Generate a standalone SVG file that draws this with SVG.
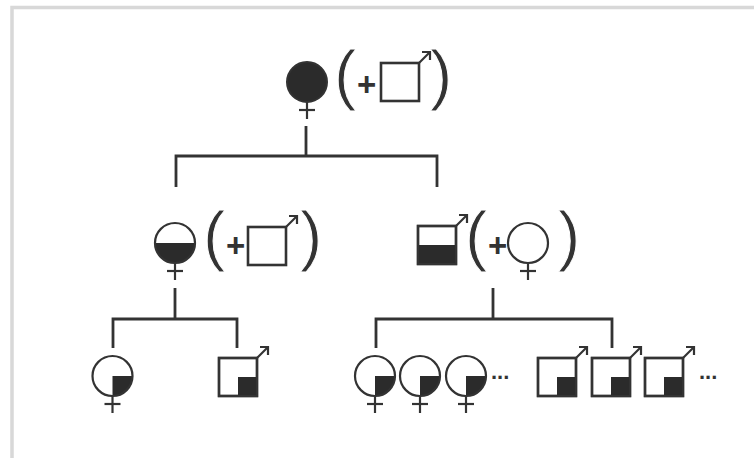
<svg xmlns="http://www.w3.org/2000/svg" width="754" height="458" viewBox="0 0 754 458">
<style>
.ln{fill:none;stroke:#333;stroke-width:2.8;stroke-linecap:butt}
.sym{fill:none;stroke:#333;stroke-width:2.2}
.sq{fill:#fff;stroke:#333;stroke-width:2.6}
.dk{fill:#2b2b2b;stroke:none}
.par{font-family:"Liberation Sans",Arial,sans-serif;font-size:67px;fill:#333;stroke:#fff;stroke-width:1}
.plus{font-family:"Liberation Sans",Arial,sans-serif;font-size:33px;font-weight:bold;fill:#333}
.dots{font-family:"Liberation Sans",Arial,sans-serif;font-size:22px;font-weight:bold;fill:#333}
</style>
<defs>
<g id="femBase">
<line class="sym" x1="0" y1="20" x2="0" y2="37" stroke-width="2.8"/>
<line class="sym" x1="-8" y1="28" x2="8" y2="28" stroke-width="2.8"/>
</g>
<g id="femQ">
<circle cx="0" cy="0" r="20" fill="#fff" stroke="none"/>
<path class="dk" d="M0,0 H20 A20,20 0 0 1 0,20 Z"/>
<circle class="sym" cx="0" cy="0" r="20"/>
<use href="#femBase"/>
</g>
<g id="maleArrow">
<line class="sym" x1="38" y1="0" x2="49" y2="-11" stroke-width="2.8"/>
<polyline class="sym" points="41,-11 49,-11 49,-3" stroke-width="2.8"/>
</g>
<g id="maleQ">
<rect class="sq" x="0" y="0" width="38" height="38"/>
<rect class="dk" x="19" y="19" width="19" height="19"/>
<rect class="sym" x="0" y="0" width="38" height="38" stroke-width="2.6"/>
<use href="#maleArrow"/>
</g>
</defs>
<rect x="12" y="7.5" width="760" height="470" fill="none" stroke="#d8d8d8" stroke-width="3.5"/>
<g id="connectors">
<path class="ln" d="M306,126 V156 M176,187 V156 H437 V187"/>
<path class="ln" d="M175,288 V319 M113,348 V319 H237 V348"/>
<path class="ln" d="M493,288 V319 M376,348 V319 H612 V348"/>
</g>
<g id="gen1">
<g transform="translate(307,82)">
<circle cx="0" cy="0" r="20" fill="#2b2b2b" stroke="#333" stroke-width="2"/>
<use href="#femBase"/>
</g>
<text class="par" x="334" y="97">(</text>
<text class="plus" x="357" y="96">+</text>
<g transform="translate(381,63)">
<rect class="sq" x="0" y="0" width="38" height="38"/>
<use href="#maleArrow"/>
</g>
<text class="par" x="430" y="97">)</text>
</g>
<g id="gen2-left">
<g transform="translate(175,243)">
<circle cx="0" cy="0" r="20" fill="#fff" stroke="none"/>
<path class="dk" d="M-20,0 A20,20 0 0 0 20,0 Z"/>
<circle class="sym" cx="0" cy="0" r="20"/>
<use href="#femBase"/>
</g>
<text class="par" x="203" y="258">(</text>
<text class="plus" x="226" y="257">+</text>
<g transform="translate(248,227)">
<rect class="sq" x="0" y="0" width="38" height="38"/>
<use href="#maleArrow"/>
</g>
<text class="par" x="300" y="258">)</text>
</g>
<g id="gen2-right">
<g transform="translate(418,226)">
<rect class="sq" x="0" y="0" width="38" height="38"/>
<rect class="dk" x="0" y="19" width="38" height="19"/>
<rect class="sym" x="0" y="0" width="38" height="38" stroke-width="2.6"/>
<use href="#maleArrow"/>
</g>
<text class="par" x="465" y="258">(</text>
<text class="plus" x="488" y="257">+</text>
<g transform="translate(528,243)">
<circle class="sym" cx="0" cy="0" r="20" fill="#fff"/>
<use href="#femBase"/>
</g>
<text class="par" x="558" y="258">)</text>
</g>
<g id="gen3-left-daughter"><use href="#femQ" transform="translate(112.5,376)"/></g>
<g id="gen3-left-son"><use href="#maleQ" transform="translate(219,358)"/></g>
<g id="gen3-right-daughters">
<use href="#femQ" transform="translate(375,376)"/>
<use href="#femQ" transform="translate(420,376)"/>
<use href="#femQ" transform="translate(466,376)"/>
<text class="dots" x="491" y="379">...</text>
</g>
<g id="gen3-right-sons">
<use href="#maleQ" transform="translate(538,358)"/>
<use href="#maleQ" transform="translate(592,358)"/>
<use href="#maleQ" transform="translate(645,358)"/>
<text class="dots" x="699" y="379">...</text>
</g>
</svg>
